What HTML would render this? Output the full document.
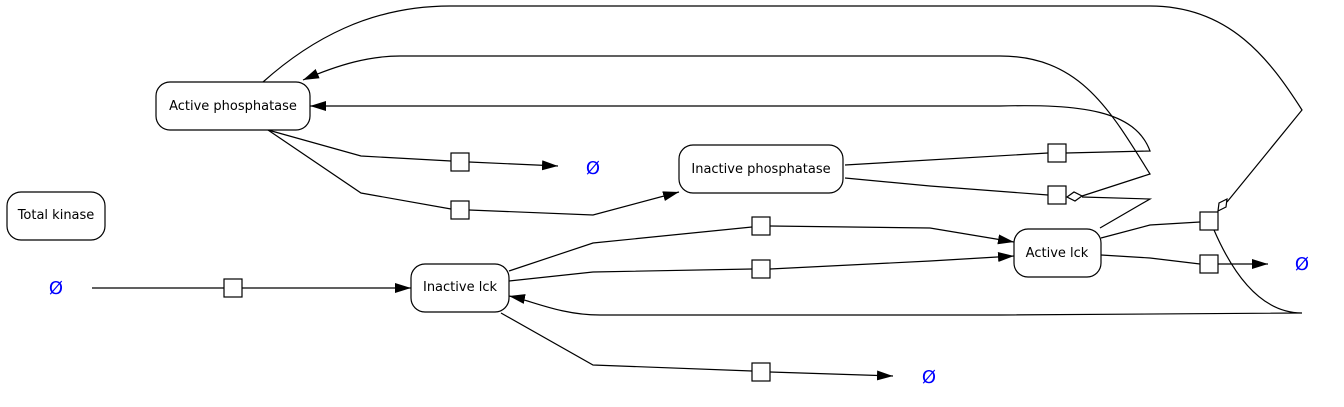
<!DOCTYPE html>
<html><head><style>body{margin:0;background:#fff}svg{display:block}</style></head><body>
<svg width="1344" height="407" viewBox="0 0 1344 407" xmlns="http://www.w3.org/2000/svg" font-family="DejaVu Sans, sans-serif">
<defs><marker id="a" markerWidth="16" markerHeight="10" refX="16" refY="5" orient="auto" markerUnits="userSpaceOnUse"><path d="M0,0 L16,5 L0,10z" fill="#000"/></marker></defs>
<g fill="none" stroke="#000" stroke-width="1.2">
<path d="M92,288 L224,288 M242,288 L360,288 L411,288" marker-end="url(#a)"/>
<path d="M268,130 L361,156 L451,161 M469,162 L558,166" marker-end="url(#a)"/>
<path d="M268,130 L361,193 L451,209 M469,210 L593,215 L679,192" marker-end="url(#a)"/>
<path d="M845,165 L1048,153 M1066,153 L1150,151 C1135,110 1080,104 1000,106 L310,106" marker-end="url(#a)"/>
<path d="M845,178 L930,186 L1048,195 M1082,196 L1150,174 C1110,110 1080,56 1000,56 L400,56 C370,56 340,64 303,80" marker-end="url(#a)"/>
<path d="M1100,228 L1150,199 L1082,197"/>
<path d="M509,271 L593,243 L752,227 M770,226 L930,228 L1014,242" marker-end="url(#a)"/>
<path d="M509,281 L593,272 L752,269 M770,269 L930,261 L1014,256" marker-end="url(#a)"/>
<path d="M1101,238 L1150,225 L1200,222"/>
<path d="M1227,202 L1302,110 C1270,60 1230,6 1150,6 L450,6 C370,6 310,40 263,82"/>
<path d="M1214,230 C1240,290 1270,313 1302,313 L1000,315 L600,315 C560,315 530,300 509,296" marker-end="url(#a)"/>
<path d="M1101,255 L1150,258 L1200,264 M1218,264 L1268,264" marker-end="url(#a)"/>
<path d="M501,313 L593,365 L752,371 M770,372 L893,376" marker-end="url(#a)"/>
</g>
<g fill="#fff" stroke="#000" stroke-width="1.2">
<rect x="156" y="82" width="154" height="48" rx="14"/>
<rect x="7" y="192" width="98" height="48" rx="14"/>
<rect x="679" y="145" width="164" height="48" rx="14"/>
<rect x="411" y="264" width="98" height="48" rx="14"/>
<rect x="1014" y="229" width="87" height="48" rx="14"/>
<rect x="451" y="153" width="18" height="18"/>
<rect x="451" y="201" width="18" height="18"/>
<rect x="752" y="217" width="18" height="18"/>
<rect x="752" y="260" width="18" height="18"/>
<rect x="1048" y="144" width="18" height="18"/>
<rect x="1048" y="186" width="18" height="18"/>
<rect x="1200" y="212" width="18" height="18"/>
<rect x="1200" y="255" width="18" height="18"/>
<rect x="752" y="363" width="18" height="18"/>
<rect x="224" y="279" width="18" height="18"/>
<path d="M1067,197 L1074,192 L1082,196 L1075,201z"/>
<path d="M1218,211 L1219,203 L1227,199 L1226,207z"/>
</g>
<g font-size="13" text-anchor="middle" fill="#000">
<text x="233" y="110">Active phosphatase</text>
<text x="56" y="219">Total kinase</text>
<text x="761" y="173">Inactive phosphatase</text>
<text x="460" y="291">Inactive lck</text>
<text x="1057" y="257">Active lck</text>
</g>
<g font-size="18" text-anchor="middle" fill="#00f">
<text x="56" y="294">Ø</text>
<text x="593" y="174">Ø</text>
<text x="929" y="383">Ø</text>
<text x="1302" y="270">Ø</text>
</g>
</svg>
</body></html>
